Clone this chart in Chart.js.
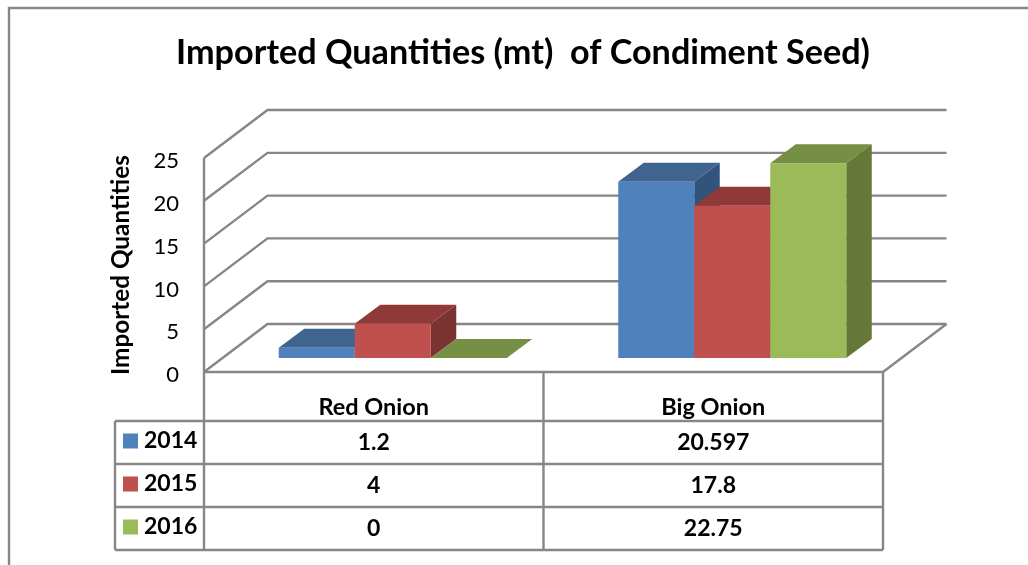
<!DOCTYPE html>
<html lang="en">

<head>
    <meta charset="UTF-8">
    <title>Imported Quantities</title>
    <script src="https://cdn.jsdelivr.net/npm/chart.js"></script>
    <style>
        body { margin: 0; background: #fff; }
        canvas { display: block; }
    </style>
</head>

<body>
    <canvas id="seedChart" width="1028" height="565"></canvas>
    <script>
        const categories = ['Red Onion', 'Big Onion'];
        const years = ['2014', '2015', '2016'];
        const values2014 = [1.2, 20.597];
        const values2015 = [4, 17.8];
        const values2016 = [0, 22.75];

        const frontColors = ['#4F81BD', '#C0504D', '#9BBB59'];
        const topColors = ['#3F648F', '#8F3A38', '#778F45'];
        const sideColors = ['#32547C', '#7B3331', '#657838'];
        const lineColor = '#868686';
        const fontName = 'Lato, "Open Sans", sans-serif';

        // 3D look: wall depth, bars sit a bit inside the floor
        const wallDepth = { x: 63.5, y: -48 };
        const barShift = { x: 19, y: -14 };
        const barDepth = { x: 25.5, y: -19 };

        // table rows under the plot
        const headerBottom = 421;
        const rowBottoms = [464, 507, 550];
        const tableLeft = 115;

        function line(ctx, points) {
            ctx.beginPath();
            points.forEach((p, i) => i ? ctx.lineTo(p[0], p[1]) : ctx.moveTo(p[0], p[1]));
            ctx.stroke();
        }

        function poly(ctx, color, points) {
            ctx.fillStyle = color;
            ctx.beginPath();
            points.forEach((p, i) => i ? ctx.lineTo(p[0], p[1]) : ctx.moveTo(p[0], p[1]));
            ctx.closePath();
            ctx.fill();
        }

        const depthPlugin = {
            id: 'depth',
            afterLayout(chart) {
                // title is not centred over the plot in the original
                chart.titleBlock.left += 28;
                chart.titleBlock.right += 28;
            },
            beforeDatasetsDraw(chart) {
                const { ctx, scales: { x, y } } = chart;
                const zero = y.getPixelForValue(0);
                const middle = (x.left + x.right) / 2;
                const bottom = rowBottoms[rowBottoms.length - 1];

                ctx.save();
                ctx.strokeStyle = lineColor;
                ctx.lineWidth = 2.4;

                // frame of the picture
                line(ctx, [[9, 565], [9, 8], [1028, 8]]);

                // walls
                y.ticks.forEach(tick => {
                    const py = y.getPixelForValue(tick.value);
                    line(ctx, [
                        [x.left, py],
                        [x.left + wallDepth.x, py + wallDepth.y],
                        [x.right + wallDepth.x, py + wallDepth.y]
                    ]);
                });
                line(ctx, [[x.right, zero], [x.right + wallDepth.x, zero + wallDepth.y]]);
                line(ctx, [[x.left, y.getPixelForValue(25)], [x.left, bottom]]);
                line(ctx, [[x.left, zero], [x.right, zero]]);

                // table lines
                line(ctx, [[middle, zero], [middle, bottom]]);
                line(ctx, [[x.right, zero], [x.right, bottom]]);
                line(ctx, [[tableLeft, headerBottom], [tableLeft, bottom]]);
                line(ctx, [[tableLeft, headerBottom], [x.right, headerBottom]]);
                rowBottoms.forEach(rowY => line(ctx, [[tableLeft, rowY], [x.right, rowY]]));

                // table text
                ctx.font = 'bold 23px ' + fontName;
                ctx.textBaseline = 'middle';
                chart.data.datasets.forEach((dataset, row) => {
                    const top = row ? rowBottoms[row - 1] : headerBottom;
                    const rowY = (top + rowBottoms[row]) / 2;
                    ctx.fillStyle = frontColors[row];
                    ctx.fillRect(tableLeft + 8, rowY - 9, 15, 15);
                    ctx.fillStyle = '#000';
                    ctx.textAlign = 'left';
                    ctx.fillText(dataset.label, tableLeft + 29, rowY - 2);
                    ctx.textAlign = 'center';
                    dataset.data.forEach((value, col) => {
                        ctx.fillText(String(value), x.getPixelForTick(col), rowY);
                    });
                });
                ctx.restore();
            },
            // the library paints the first dataset last, the 3D look needs left to right
            beforeDatasetDraw() {
                return false;
            },
            afterDatasetsDraw(chart) {
                const { ctx } = chart;
                chart.data.datasets.forEach((dataset, index) => {
                    const meta = chart.getDatasetMeta(index);
                    ctx.save();
                    ctx.translate(barShift.x, barShift.y);
                    meta.data.forEach(bar => {
                        const left = bar.x - bar.width / 2;
                        const right = bar.x + bar.width / 2;
                        const dx = barDepth.x;
                        const dy = barDepth.y;
                        poly(ctx, topColors[index], [
                            [left, bar.y], [left + dx, bar.y + dy], [right + dx, bar.y + dy], [right, bar.y]
                        ]);
                        poly(ctx, sideColors[index], [
                            [right, bar.y], [right + dx, bar.y + dy], [right + dx, bar.base + dy], [right, bar.base]
                        ]);
                    });
                    meta.controller.draw();
                    ctx.restore();
                });
            }
        };

        new Chart(document.getElementById('seedChart'), {
            type: 'bar',
            data: {
                labels: categories,
                datasets: [
                    { label: years[0], data: values2014, backgroundColor: frontColors[0] },
                    { label: years[1], data: values2015, backgroundColor: frontColors[1] },
                    { label: years[2], data: values2016, backgroundColor: frontColors[2] }
                ]
            },
            plugins: [depthPlugin],
            options: {
                responsive: false,
                animation: false,
                layout: { padding: { left: 107, right: 145, top: 0, bottom: 0 } },
                datasets: {
                    bar: { barPercentage: 1, categoryPercentage: 0.6716 }
                },
                plugins: {
                    legend: { display: false },
                    tooltip: { enabled: false },
                    title: {
                        display: true,
                        text: 'Imported Quantities (mt)  of Condiment Seed)',
                        color: '#000',
                        font: { family: fontName, size: 34.2, weight: 'bold' },
                        padding: { top: 32, bottom: 85 }
                    }
                },
                scales: {
                    x: {
                        grid: { display: false, drawTicks: false },
                        border: { display: false },
                        ticks: {
                            color: '#000',
                            maxRotation: 0,
                            padding: 21,
                            font: { family: fontName, size: 23.5, weight: 'bold' }
                        },
                        afterFit(scale) { scale.height = 193; }
                    },
                    y: {
                        min: 0,
                        max: 25,
                        grid: { display: false, drawTicks: false },
                        border: { display: false },
                        ticks: {
                            color: '#000',
                            stepSize: 5,
                            padding: 25,
                            labelOffset: 3,
                            font: { family: fontName, size: 22 }
                        },
                        title: {
                            display: true,
                            text: 'Imported Quantities',
                            color: '#000',
                            padding: 0,
                            font: { family: fontName, size: 24.3, weight: 'bold' }
                        },
                        afterFit(scale) { scale.width = 97; }
                    }
                }
            }
        });
    </script>
</body>

</html>
